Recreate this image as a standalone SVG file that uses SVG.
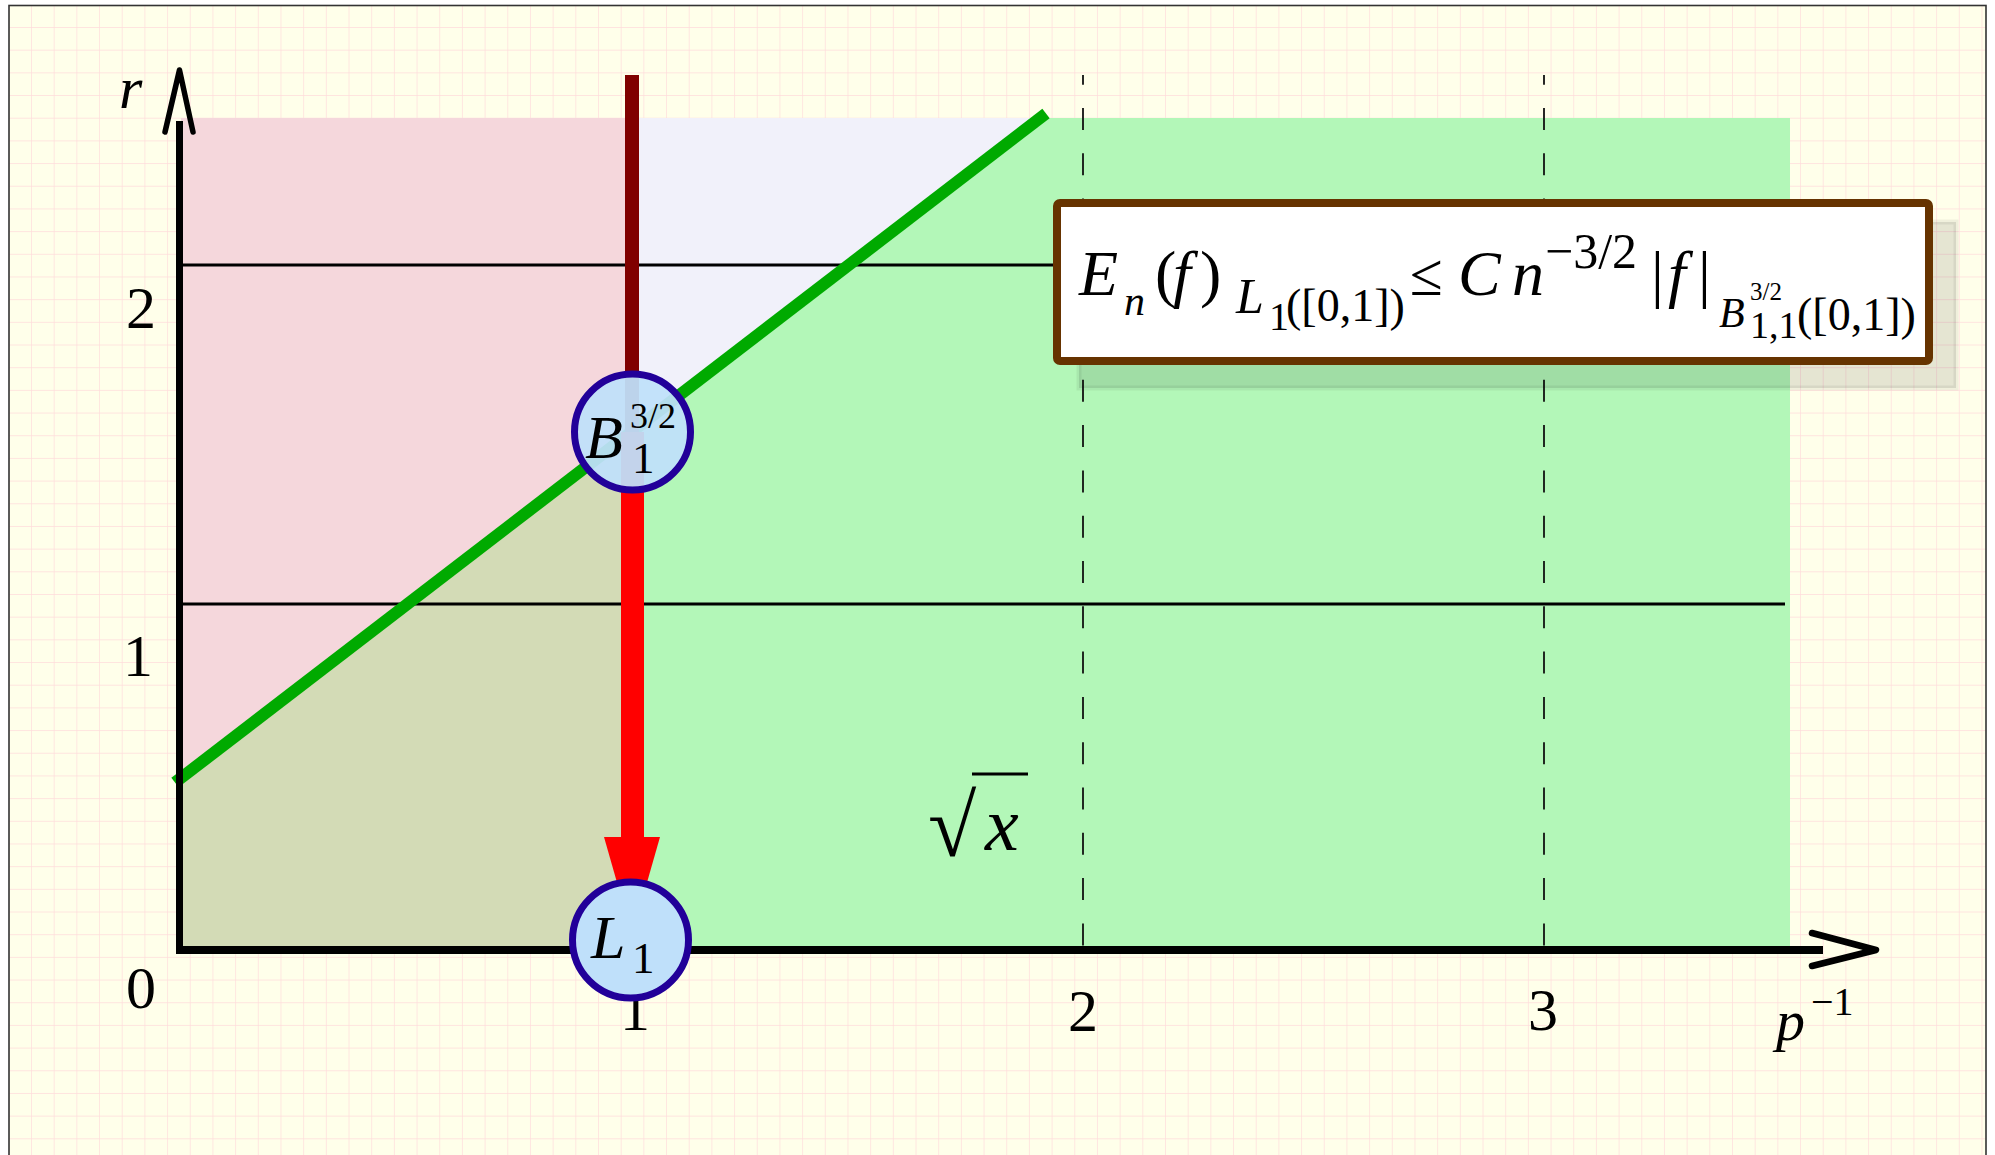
<svg xmlns="http://www.w3.org/2000/svg" width="1995" height="1155" viewBox="0 0 1995 1155">
<defs>
<pattern id="grid" x="9.3" y="5.3" width="22.68" height="22.68" patternUnits="userSpaceOnUse">
<path d="M22.68 0V22.68M0 22.68H22.68" fill="none" stroke="#FFDCDC" stroke-width="1.4"/>
</pattern>
</defs>
<style>
.t{font-family:"Liberation Serif","Times New Roman",serif;fill:#000}
.i{font-style:italic}
.node circle{fill:#BFE0FA;stroke:#220099;stroke-width:7}
.dash{stroke:#111;stroke-width:1.8;stroke-dasharray:22 23.3;stroke-dashoffset:12.3}
.hl{stroke:#000;stroke-width:3}
</style>
<rect x="0" y="0" width="1995" height="1155" fill="#FFFFFF"/>
<rect x="9" y="5.5" width="1977" height="1160" fill="#FFFFEA"/>
<rect x="9" y="5.5" width="1977" height="1160" fill="url(#grid)"/>
<rect x="9" y="5.5" width="1977" height="1160" fill="none" stroke="#333" stroke-width="1.6"/>

<g id="regions">
<polygon points="181,118 632,118 632,431.6 181,778" fill="#F5D7DC"/>
<polygon points="632,118 1040,118 632,431.6" fill="#F1F1FA"/>
<polygon points="181,778 632,431.6 632,950 181,950" fill="#D3DBB6"/>
<polygon points="632,431.6 1040,118 1790,118 1790,950 632,950" fill="#B3F7B8"/>
</g>

<g id="gridlines">
<line class="hl" x1="181" y1="265" x2="1785" y2="265"/>
<line class="hl" x1="181" y1="604" x2="1785" y2="604"/>
<line class="dash" x1="1083" y1="75" x2="1083" y2="950"/>
<line class="dash" x1="1544" y1="75" x2="1544" y2="950"/>
</g>

<line id="green-line" x1="175" y1="782.6" x2="1046" y2="113.5" stroke="#00AA00" stroke-width="12"/>

<g id="axes" stroke="#000" fill="none">
<line x1="179.5" y1="121" x2="179.5" y2="954" stroke-width="7"/>
<polyline points="165,132 179.5,70 193,132" stroke-width="5.5" stroke-linecap="round" stroke-linejoin="round"/>
<line x1="176" y1="950" x2="1823" y2="950" stroke-width="8"/>
<polyline points="1812,933 1876,950 1812,966" stroke-width="6.5" stroke-linecap="round" stroke-linejoin="round"/>
</g>

<g id="axis-labels" class="t" font-size="60" text-anchor="middle">
<text x="119" y="108" class="t i" text-anchor="start">r</text>
<text x="141" y="328">2</text>
<text x="138" y="676">1</text>
<text x="141" y="1008">0</text>
<text x="635" y="1030">1</text>
<text x="1083" y="1031">2</text>
<text x="1543" y="1030">3</text>
<text x="1776" y="1040" class="t i" font-size="58" text-anchor="start">p</text>
<text x="1811" y="1015" font-size="40" text-anchor="start">−1</text>
</g>

<g id="sqrt-label" class="t">
<text x="928" y="856" font-size="88">√</text>
<line x1="972" y1="774" x2="1028" y2="774" stroke="#000" stroke-width="3"/>
<text x="985" y="850" class="t i" font-size="76">x</text>
</g>

<g id="connectors">
<line x1="632" y1="75" x2="632" y2="432" stroke="#800000" stroke-width="14"/>
<line x1="632.5" y1="432" x2="632.5" y2="840" stroke="#FF0000" stroke-width="23"/>
<polygon points="604,837 660,837 632,935" fill="#FF0000"/>
</g>

<g id="formula">
<rect x="1079" y="222" width="877" height="166" fill="#000" fill-opacity="0.1" stroke="#000" stroke-opacity="0.06" stroke-width="5"/>
<rect x="1057" y="203" width="872" height="158" rx="3" fill="#FFFFFF" stroke="#663300" stroke-width="8"/>
<g class="t">
<text x="1079" y="295" class="t i" font-size="64">E</text>
<text x="1124" y="315" class="t i" font-size="42">n</text>
<text x="1155" y="295" font-size="64">(</text>
<text x="1173" y="295" class="t i" font-size="64">f</text>
<text x="1200" y="295" font-size="64">)</text>
<text x="1236" y="313" class="t i" font-size="50">L</text>
<text x="1269" y="330" font-size="40">1</text>
<text x="1286" y="321" font-size="46">([0,1])</text>
<text x="1410" y="295" font-size="60">≤</text>
<text x="1458" y="295" class="t i" font-size="64">C</text>
<text x="1512" y="295" class="t i" font-size="64">n</text>
<text x="1545" y="268" font-size="50">−3/2</text>
<text x="1651" y="295" font-size="64">|</text>
<text x="1668" y="295" class="t i" font-size="64">f</text>
<text x="1698" y="295" font-size="64">|</text>
<text x="1719" y="327" class="t i" font-size="42">B</text>
<text x="1750" y="300" font-size="25">3/2</text>
<text x="1750" y="338" font-size="38">1,1</text>
<text x="1797" y="330" font-size="46">([0,1])</text>
</g>
</g>

<g id="node-B" class="node">
<circle cx="632.5" cy="432" r="58" fill-opacity="0.94"/>
<text x="585" y="458" class="t i" font-size="62">B</text>
<text x="630" y="428" class="t" font-size="36">3/2</text>
<text x="632" y="473" class="t" font-size="45">1</text>
</g>

<g id="node-L1" class="node">
<circle cx="630.5" cy="940" r="58"/>
<text x="591" y="958" class="t i" font-size="62">L</text>
<text x="632" y="973" class="t" font-size="45">1</text>
</g>
</svg>
